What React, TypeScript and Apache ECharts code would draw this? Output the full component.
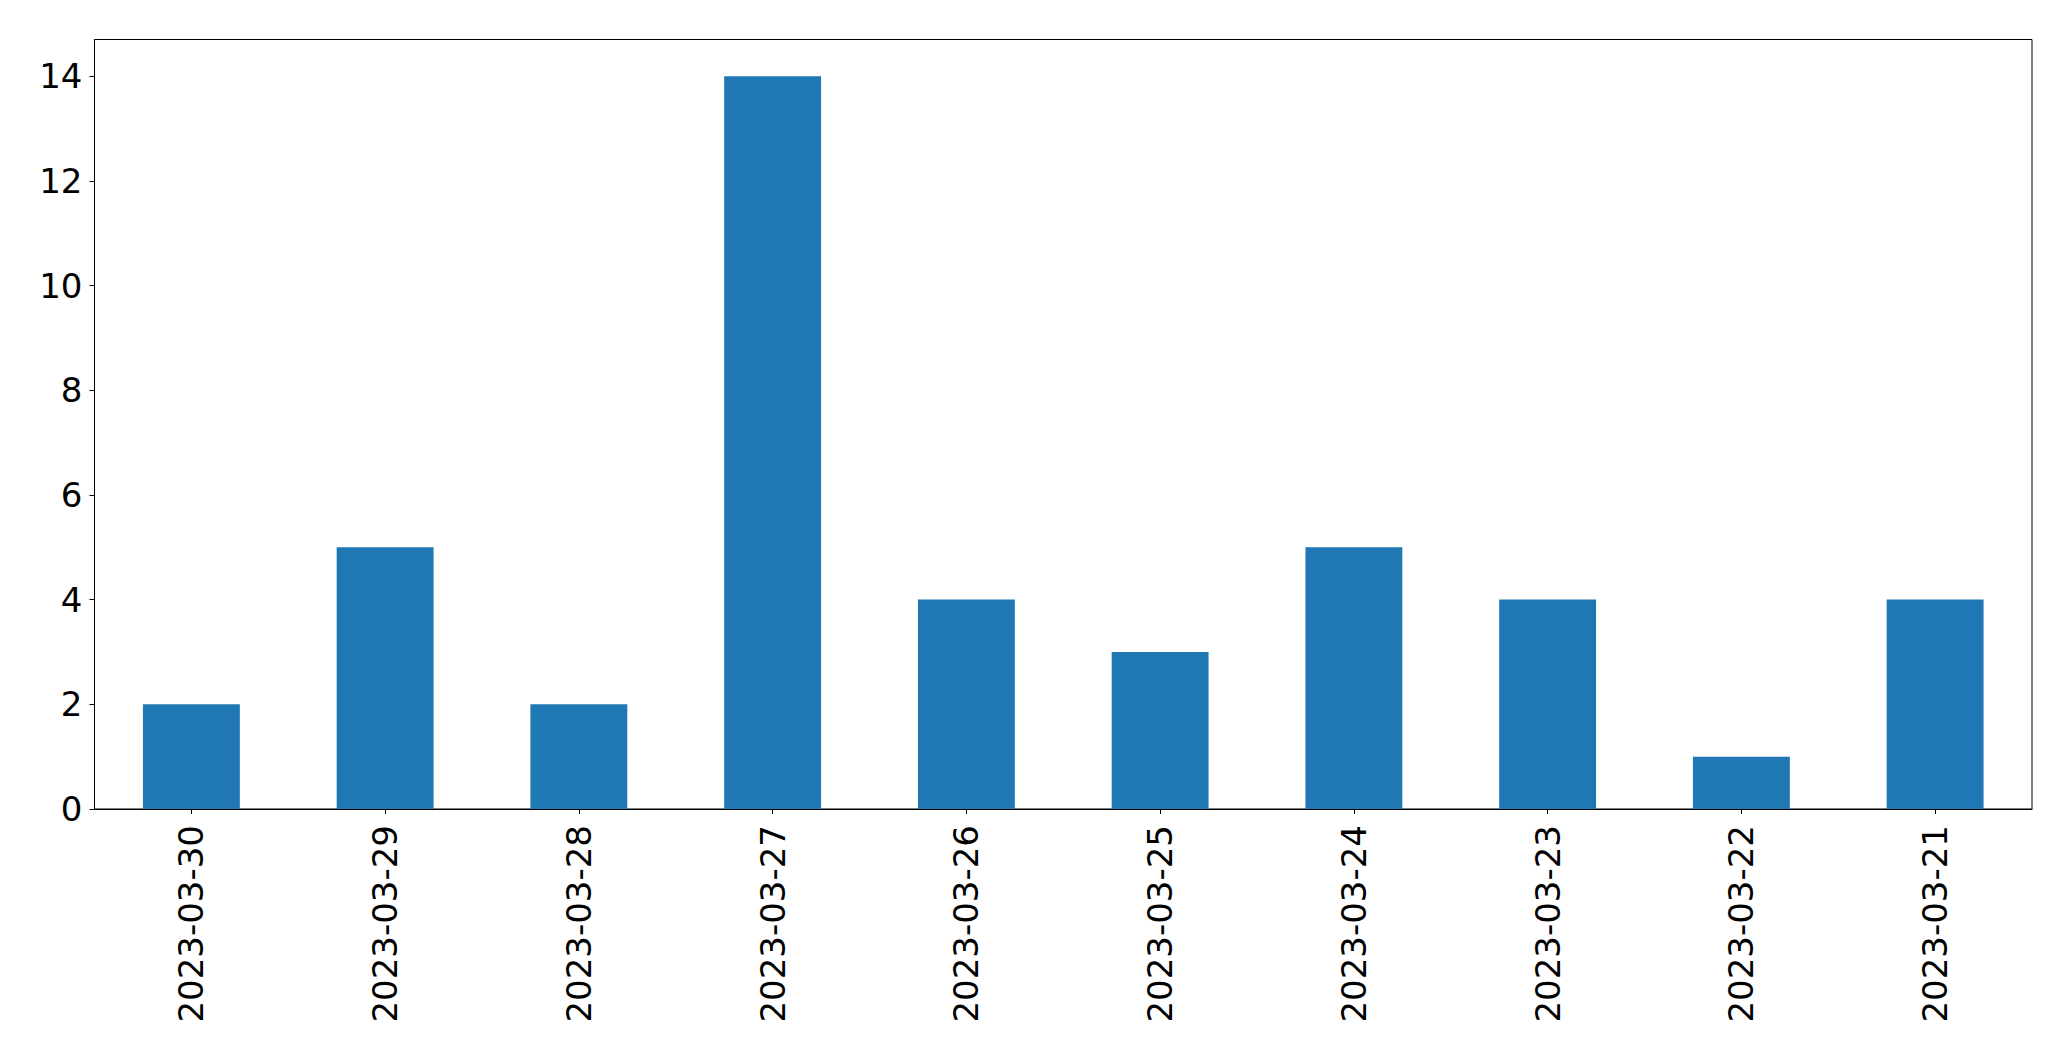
import React, { useEffect, useRef } from "react";
import * as echarts from "echarts";

const categories = [
  "2023-03-30",
  "2023-03-29",
  "2023-03-28",
  "2023-03-27",
  "2023-03-26",
  "2023-03-25",
  "2023-03-24",
  "2023-03-23",
  "2023-03-22",
  "2023-03-21",
];
const values = [2, 5, 2, 14, 4, 3, 5, 4, 1, 4];
const yTicks = [0, 2, 4, 6, 8, 10, 12, 14];
const yMax = 14.7;

export default function App() {
  const ref = useRef<HTMLDivElement>(null);
  useEffect(() => {
    if (!ref.current) return;
    const chart = echarts.init(ref.current, null, { renderer: "svg" });
    const font = "DejaVu Sans";
    chart.setOption({
      animation: false,
      backgroundColor: "#ffffff",
      grid: {
        left: 94.5,
        right: 39,
        top: 39.5,
        bottom: 252,
        show: true,
        borderColor: "#000",
        borderWidth: 1,
        containLabel: false,
      },
      xAxis: {
        type: "category",
        data: categories,
        boundaryGap: true,
        axisLine: { show: true, lineStyle: { color: "#000", width: 1 } },
        axisTick: {
          show: true,
          alignWithLabel: true,
          length: 5,
          lineStyle: { color: "#000", width: 1 },
        },
        axisLabel: {
          rotate: 90,
          margin: 16,
          fontFamily: font,
          fontSize: 34,
          color: "#000",
          interval: 0,
        },
        splitLine: { show: false },
      },
      yAxis: {
        type: "value",
        min: 0,
        max: yMax,
        interval: 2,
        axisLine: { show: true, lineStyle: { color: "#000", width: 1 } },
        axisTick: {
          show: true,
          length: 5,
          customValues: yTicks,
          lineStyle: { color: "#000", width: 1 },
        },
        axisLabel: {
          margin: 12,
          fontFamily: font,
          fontSize: 34,
          color: "#000",
          customValues: yTicks,
        },
        splitLine: { show: false },
      },
      series: [
        {
          type: "bar",
          data: values,
          barWidth: "50%",
          itemStyle: { color: "#1f77b4" },
        },
      ],
    });
    return () => chart.dispose();
  }, []);
  return (
    <div
      ref={ref}
      style={{ position: "fixed", left: 0, top: 0, width: 2071, height: 1061 }}
    />
  );
}
